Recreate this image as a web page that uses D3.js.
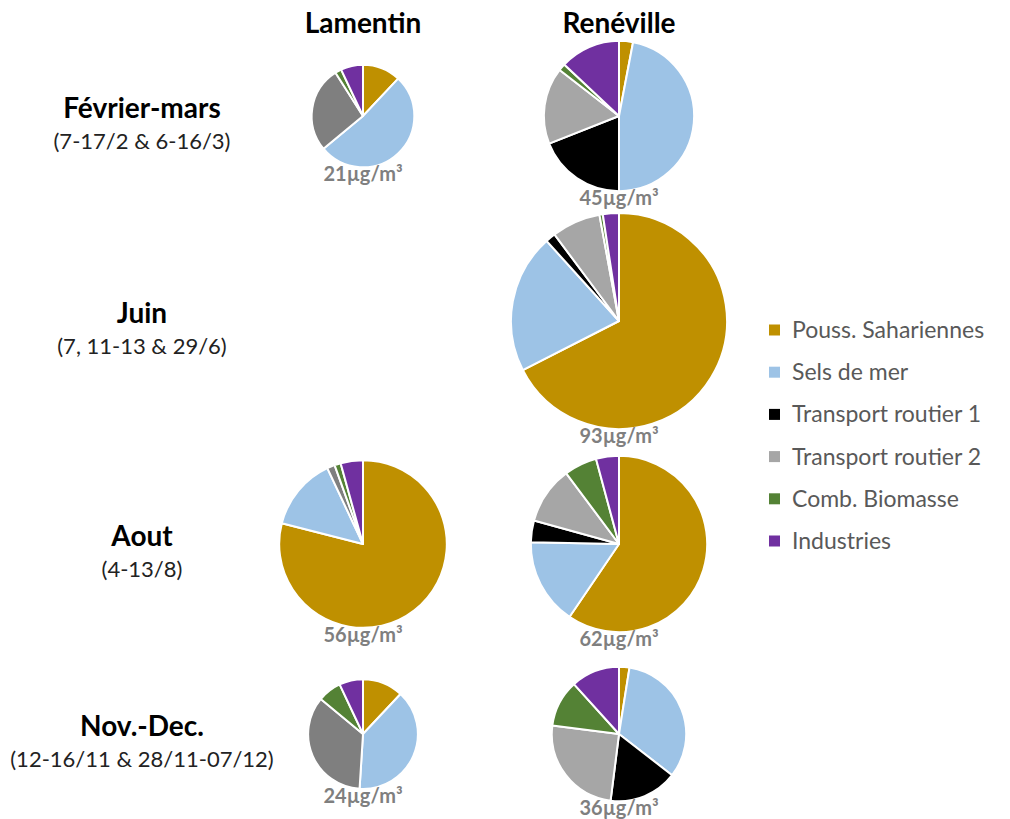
<!DOCTYPE html>
<html>
<head>
  <meta charset="utf-8">
  <title>Sources PM10 - Lamentin / Renéville</title>
  <script src="https://d3js.org/d3.v7.min.js"></script>
  <style>
    body { margin: 0; background: #fff; }
    text { font-family: Lato, "Open Sans", sans-serif; }
  </style>
</head>
<body>
<svg width="1010" height="819"></svg>
<script>
// --- Données ---
const sources = ["Pouss. Sahariennes", "Sels de mer", "Transport routier 1",
                 "Transport routier 2", "Comb. Biomasse", "Industries"];
const sites = ["Lamentin", "Renéville"];
const periods = ["Février-mars", "Juin", "Aout", "Nov.-Dec."];
const periodDates = ["(7-17/2 & 6-16/3)", "(7, 11-13 & 29/6)", "(4-13/8)",
                     "(12-16/11 & 28/11-07/12)"];

// concentration totale (µg/m³) par période, null = pas de mesure
const lamentinTotals = [21, null, 56, 24];
const renevilleTotals = [45, 93, 62, 36];

// parts (%) par source, même ordre que "sources"
const lamentinShares = [
  [12, 52, 0, 27, 2, 7],
  null,
  [79, 14, 0, 1.5, 1.2, 4.3],
  [12, 39, 0, 35, 7, 7]
];
const renevilleShares = [
  [3, 47, 19, 16.5, 1.5, 13],
  [67.5, 20.8, 1.5, 7.3, 0.5, 2.4],
  [59.5, 15.8, 4, 10.5, 6, 4.2],
  [2.5, 33, 16.5, 25, 11.3, 11.7]
];

// --- Styles / mise en page ---
const colors = ["#BF9000", "#9DC3E6", "#000000", "#A6A6A6", "#548235", "#7030A0"];
const lamentinRoutier = "#7F7F7F"; // gris plus foncé à Lamentin
const rowY = [116, 321, 544, 734];

const svg = d3.select("svg");

const x = d3.scalePoint().domain(sites).range([363, 619]);
const y = d3.scaleOrdinal().domain(periods).range(rowY);
const r = d3.scaleSqrt().domain([0, 100]).range([0, 112]);

const pie = d3.pie().sort(null).value(d => d.v);
const arc = d3.arc().innerRadius(0);

// titres des colonnes
svg.selectAll(".site").data(sites).join("text")
  .attr("class", "site")
  .attr("x", d => x(d)).attr("y", 33)
  .attr("text-anchor", "middle")
  .attr("font-size", 28).attr("font-weight", "bold").attr("fill", "#000")
  .text(d => d);

// libellés des périodes
const rowLab = svg.selectAll(".period").data(periods).join("g")
  .attr("class", "period")
  .attr("transform", d => `translate(142,${y(d)})`);
rowLab.append("text")
  .attr("y", 2).attr("text-anchor", "middle")
  .attr("font-size", 28).attr("font-weight", "bold").attr("fill", "#000")
  .text(d => d);
rowLab.append("text")
  .attr("y", 33).attr("text-anchor", "middle")
  .attr("font-size", 22).attr("fill", "#222")
  .text((d, i) => periodDates[i]);

// camemberts
const cells = [];
periods.forEach((p, i) => {
  if (lamentinShares[i]) cells.push({site: "Lamentin", period: p, total: lamentinTotals[i], shares: lamentinShares[i]});
  if (renevilleShares[i]) cells.push({site: "Renéville", period: p, total: renevilleTotals[i], shares: renevilleShares[i]});
});

const g = svg.selectAll(".pie").data(cells).join("g")
  .attr("class", "pie")
  .attr("transform", d => `translate(${x(d.site)},${y(d.period)})`);

g.each(function(d) {
  const rad = r(d.total);
  const parts = d.shares.map((v, k) => ({v, k, site: d.site}));
  d3.select(this).selectAll("path")
    .data(pie(parts).filter(a => a.data.v > 0))
    .join("path")
    .attr("d", a => arc.outerRadius(rad)(a))
    .attr("fill", a => (a.data.site === "Lamentin" && a.data.k === 3) ? lamentinRoutier : colors[a.data.k])
    .attr("stroke", "#fff").attr("stroke-width", 2).attr("stroke-linejoin", "round");
});

// étiquettes de concentration (au-dessus des camemberts)
g.append("text")
  .attr("y", d => r(d.total) + 14).attr("text-anchor", "middle")
  .attr("font-size", 20).attr("font-weight", "bold").attr("fill", "#7F7F7F")
  .text(d => d.total + "µg/m³");

// légende
const leg = svg.selectAll(".leg").data(sources).join("g")
  .attr("class", "leg")
  .attr("transform", (d, i) => `translate(769,${330 + i * 42.2})`);
leg.append("rect")
  .attr("x", 0).attr("y", -5.5).attr("width", 11).attr("height", 11)
  .attr("fill", (d, i) => colors[i]);
leg.append("text")
  .attr("x", 23).attr("y", 8)
  .attr("font-size", 23).attr("fill", "#595959")
  .text(d => d);
</script>
</body>
</html>
